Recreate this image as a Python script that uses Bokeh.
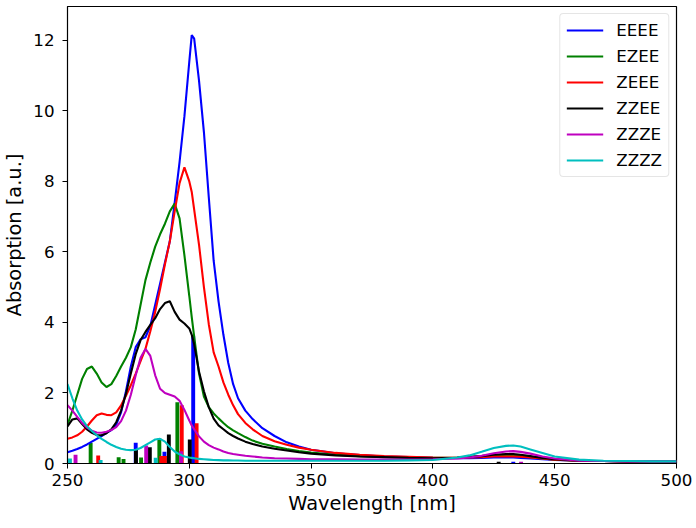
from bokeh.plotting import figure
from bokeh.models import Range1d, FixedTicker, Legend, LegendItem
from bokeh.embed import file_html
from bokeh.resources import INLINE

# Wavelength grid (nm) on which the broadened spectra are sampled
wavelength = [250, 252, 254, 256, 258, 260, 262, 264, 266, 268, 270, 272, 274, 276, 278,
              280, 282, 284, 286, 288, 290, 292, 294, 296, 298, 300, 301, 302, 304, 306,
              308, 310, 312, 314, 316, 318, 320, 323, 326, 330, 335, 340, 345, 350, 360,
              370, 380, 390, 400, 410, 415, 420, 425, 430, 433, 436, 440, 445, 450, 460,
              470, 480, 490, 500]

eeee = [0.32, 0.36, 0.41, 0.47, 0.54, 0.62, 0.70, 0.78, 0.87, 0.95, 1.10, 1.45, 2.05, 2.75, 3.30,
        3.52, 3.58, 3.90, 4.50, 5.10, 5.70, 6.30, 7.40, 8.55, 9.85, 11.40, 12.15, 12.05, 10.85, 9.40,
        7.55, 5.75, 4.60, 3.65, 2.85, 2.25, 1.85, 1.50, 1.26, 1.00, 0.78, 0.60, 0.48, 0.39, 0.29,
        0.24, 0.20, 0.18, 0.16, 0.15, 0.15, 0.16, 0.17, 0.17, 0.17, 0.16, 0.14, 0.12, 0.10, 0.08,
        0.07, 0.06, 0.06, 0.05]

ezee = [1.10, 1.50, 1.95, 2.40, 2.68, 2.75, 2.55, 2.30, 2.17, 2.25, 2.48, 2.75, 3.00, 3.30, 3.80,
        4.50, 5.20, 5.70, 6.15, 6.50, 6.80, 7.15, 7.37, 6.95, 5.90, 4.75, 4.15, 3.60, 2.55, 1.90,
        1.60, 1.42, 1.28, 1.15, 1.03, 0.94, 0.86, 0.75, 0.65, 0.56, 0.48, 0.41, 0.35, 0.31, 0.25,
        0.21, 0.18, 0.17, 0.16, 0.17, 0.19, 0.21, 0.23, 0.24, 0.23, 0.21, 0.18, 0.14, 0.11, 0.08,
        0.07, 0.06, 0.06, 0.06]

zeee = [0.70, 0.74, 0.80, 0.90, 1.05, 1.22, 1.37, 1.42, 1.38, 1.37, 1.45, 1.65, 1.92, 2.22, 2.55,
        2.90, 3.25, 3.75, 4.30, 4.95, 5.65, 6.30, 7.15, 7.95, 8.40, 8.00, 7.70, 7.20, 6.20, 5.00,
        3.95, 3.15, 2.75, 2.30, 1.95, 1.65, 1.40, 1.15, 0.97, 0.78, 0.63, 0.53, 0.45, 0.39, 0.30,
        0.25, 0.21, 0.19, 0.17, 0.16, 0.17, 0.18, 0.20, 0.20, 0.20, 0.19, 0.17, 0.14, 0.11, 0.08,
        0.07, 0.06, 0.06, 0.06]

zzee = [1.05, 1.25, 1.28, 1.12, 0.97, 0.87, 0.81, 0.80, 0.86, 0.97, 1.17, 1.50, 1.98, 2.55, 3.10,
        3.50, 3.73, 3.93, 4.12, 4.38, 4.55, 4.60, 4.30, 4.08, 3.97, 3.83, 3.65, 3.38, 2.60, 2.05,
        1.60, 1.27, 1.08, 0.97, 0.86, 0.78, 0.71, 0.62, 0.55, 0.48, 0.42, 0.37, 0.32, 0.28, 0.23,
        0.20, 0.18, 0.16, 0.15, 0.16, 0.18, 0.21, 0.25, 0.27, 0.27, 0.25, 0.21, 0.16, 0.12, 0.08,
        0.07, 0.06, 0.06, 0.06]

zzze = [1.65, 1.50, 1.32, 1.15, 1.02, 0.93, 0.88, 0.87, 0.90, 0.95, 1.03, 1.20, 1.50, 1.95, 2.50,
        3.00, 3.25, 3.05, 2.50, 2.12, 2.00, 1.95, 1.90, 1.78, 1.52, 1.22, 1.08, 0.97, 0.77, 0.62,
        0.52, 0.45, 0.40, 0.34, 0.30, 0.27, 0.25, 0.22, 0.20, 0.17, 0.15, 0.14, 0.13, 0.12, 0.12,
        0.11, 0.11, 0.11, 0.12, 0.14, 0.17, 0.22, 0.29, 0.34, 0.35, 0.33, 0.28, 0.20, 0.14, 0.08,
        0.07, 0.06, 0.06, 0.06]

zzzz = [2.25, 1.85, 1.50, 1.25, 1.06, 0.92, 0.80, 0.70, 0.61, 0.53, 0.47, 0.42, 0.39, 0.38, 0.39,
        0.44, 0.52, 0.60, 0.68, 0.70, 0.62, 0.47, 0.34, 0.26, 0.20, 0.17, 0.16, 0.15, 0.13, 0.12,
        0.11, 0.10, 0.095, 0.09, 0.09, 0.085, 0.085, 0.08, 0.08, 0.08, 0.08, 0.08, 0.08, 0.08, 0.08,
        0.08, 0.08, 0.09, 0.10, 0.17, 0.23, 0.33, 0.44, 0.50, 0.51, 0.48, 0.40, 0.30, 0.20, 0.11,
        0.08, 0.07, 0.06, 0.06]

# Excitation wavelengths (nm) and oscillator strengths of each isomer
eeee_sticks_nm = [278.0, 289.8, 301.6, 433.0]
eeee_sticks_f = [0.59, 0.33, 3.62, 0.05]
ezee_sticks_nm = [259.5, 271.0, 273.0, 280.2, 287.7, 295.1]
ezee_sticks_f = [0.58, 0.18, 0.13, 0.17, 0.71, 1.74]
zeee_sticks_nm = [262.6, 288.5, 290.0, 296.9, 303.0]
zeee_sticks_f = [0.23, 0.21, 0.21, 1.65, 1.14]
zzee_sticks_nm = [278.1, 283.8, 291.6, 300.2, 427.0]
zzee_sticks_f = [0.41, 0.46, 0.82, 0.68, 0.05]
zzze_sticks_nm = [253.3, 282.3, 296.6, 436.2]
zzze_sticks_f = [0.25, 0.51, 0.35, 0.05]
zzzz_sticks_nm = [251.0, 263.6, 286.2]
zzzz_sticks_f = [0.14, 0.10, 0.16]

names = ["EEEE", "EZEE", "ZEEE", "ZZEE", "ZZZE", "ZZZZ"]
x_ticks = [250, 300, 350, 400, 450, 500]
y_ticks = [0, 2, 4, 6, 8, 10, 12]

colors = ["#0000ff", "#008000", "#ff0000", "#000000", "#bf00bf", "#00bfbf"]
spectra = [eeee, ezee, zeee, zzee, zzze, zzzz]
sticks = [(eeee_sticks_nm, eeee_sticks_f), (ezee_sticks_nm, ezee_sticks_f),
          (zeee_sticks_nm, zeee_sticks_f), (zzee_sticks_nm, zzee_sticks_f),
          (zzze_sticks_nm, zzze_sticks_f), (zzzz_sticks_nm, zzzz_sticks_f)]

FONT = "DejaVu Sans"

p = figure(width=696, height=528, output_backend="svg", toolbar_location=None,
           x_range=Range1d(250, 500), y_range=Range1d(0, 12.96),
           min_border_left=62, min_border_right=20, min_border_top=6, min_border_bottom=65)
p.grid.visible = False
p.outline_line_color = "black"
p.outline_line_width = 1.2
p.background_fill_color = "white"
p.border_fill_color = "white"

# stick spectra underneath the broadened curves
for (nm, f), c in zip(sticks, colors):
    p.vbar(x=nm, top=f, width=1.6, bottom=0, fill_color=c, line_color=None)

items = []
for name, y, c in zip(names, spectra, colors):
    r = p.line(wavelength, y, line_color=c, line_width=2.1)
    items.append(LegendItem(label=name, renderers=[r]))

legend = Legend(items=items, location="top_right")
legend.label_text_font = FONT
legend.label_text_font_size = "16.7px"
legend.label_text_color = "black"
legend.glyph_width = 37
legend.glyph_height = 20
legend.label_height = 20
legend.label_standoff = 13
legend.padding = 6
legend.spacing = 6
legend.margin = 7
legend.border_line_color = "#cccccc"
legend.border_line_width = 1
legend.background_fill_alpha = 0.8
if "border_radius" in Legend.properties():
    legend.border_radius = 4
p.add_layout(legend)

p.xaxis.ticker = FixedTicker(ticks=x_ticks)
p.yaxis.ticker = FixedTicker(ticks=y_ticks)
p.xaxis.axis_label = "Wavelength [nm]"
p.yaxis.axis_label = "Absorption [a.u.]"
for ax in (p.xaxis, p.yaxis):
    ax.axis_label_text_font = FONT
    ax.axis_label_text_font_size = "19.4px"
    ax.axis_label_text_font_style = "normal"
    ax.axis_label_text_color = "black"
    ax.major_label_text_font = FONT
    ax.major_label_text_font_size = "16.7px"
    ax.major_label_text_color = "black"
    ax.major_tick_out = 5
    ax.major_tick_in = 0
    ax.minor_tick_out = 0
    ax.minor_tick_in = 0
    ax.major_tick_line_color = "black"
    ax.axis_line_color = "black"
p.xaxis.major_label_standoff = 5
p.xaxis.axis_label_standoff = 3
p.yaxis.major_label_standoff = 8
p.yaxis.axis_label_standoff = 4

open("out.html", "w").write(file_html(p, INLINE))
